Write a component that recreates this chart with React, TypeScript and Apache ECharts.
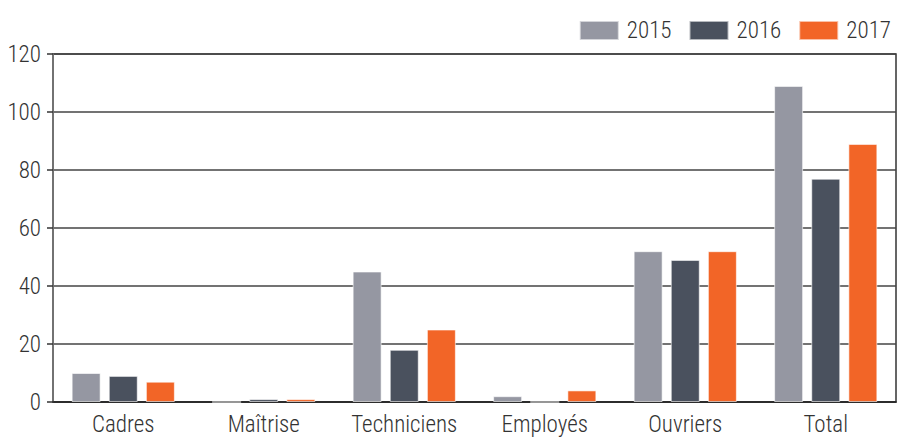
import React, { useEffect, useRef } from "react";
import * as echarts from "echarts";

const categories = ["Cadres", "Maîtrise", "Techniciens", "Employés", "Ouvriers", "Total"];
const years = ["2015", "2016", "2017"];
const values2015 = [10, 0, 45, 2, 52, 109];
const values2016 = [9, 1, 18, 0, 49, 77];
const values2017 = [7, 1, 25, 4, 52, 89];
const colors = ["#9597a2", "#4a515e", "#f26527"];

const FONT = '"Roboto Condensed", "DejaVu Sans Condensed", sans-serif';

export default function App() {
  const ref = useRef<HTMLDivElement>(null);
  useEffect(() => {
    document.body.style.margin = "0";
    const chart = echarts.init(ref.current!, null, { renderer: "svg" });
    const seriesData = [values2015, values2016, values2017];
    const label = { fontFamily: FONT, fontSize: 23, fontWeight: 300, color: "#333" };
    chart.setOption({
      animation: false,
      color: colors,
      legend: {
        top: 14,
        right: 6,
        icon: "rect",
        itemWidth: 39,
        itemHeight: 19,
        itemGap: 17,
        data: years,
        textStyle: { ...label, padding: [0, 0, 0, 3] },
      },
      grid: {
        left: 53,
        right: 6,
        top: 54,
        bottom: 37,
        show: true,
        borderColor: "#333",
        borderWidth: 1.5,
        outerBoundsMode: "none",
      },
      xAxis: {
        type: "category",
        data: categories,
        axisTick: { show: false },
        axisLine: { lineStyle: { color: "#222", width: 1.5 } },
        axisLabel: { ...label, margin: 11, lineHeight: 23, interval: 0 },
      },
      yAxis: {
        type: "value",
        min: 0,
        max: 120,
        interval: 20,
        axisLine: { show: true, lineStyle: { color: "#777", width: 1.5 } },
        axisTick: { show: true, length: 6, lineStyle: { color: "#333", width: 1.5 } },
        splitLine: { lineStyle: { color: "#444", width: 1.5 } },
        axisLabel: { ...label, margin: 12 },
      },
      series: years.map((y, i) => ({
        name: y,
        type: "bar",
        data: seriesData[i],
        barWidth: 29,
        barGap: "28%",
        itemStyle: { color: colors[i], borderColor: "rgba(255,255,255,0.6)", borderWidth: 1 },
      })),
    });
    return () => chart.dispose();
  }, []);
  return <div ref={ref} style={{ width: 902, height: 439 }} />;
}
